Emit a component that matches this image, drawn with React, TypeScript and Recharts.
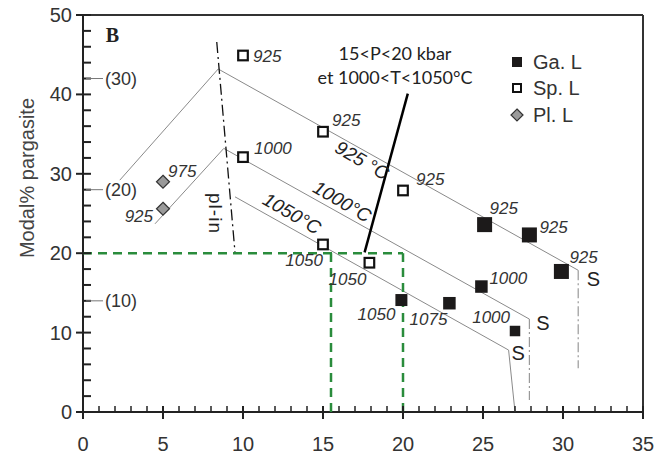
import React from "react";
import { ScatterChart, Scatter, XAxis, YAxis, ReferenceLine, Legend, Label } from "recharts";

// Ga. L (garnet lherzolite)
const GA_X = [25.1, 27.9, 29.9, 24.9, 19.9, 22.9, 27.0];
const GA_Y = [23.6, 22.3, 17.7, 15.8, 14.1, 13.7, 10.2];
const GA_T = ["925", "925", "925", "1000", "1050", "1075", "1000"];

// Sp. L (spinel lherzolite)
const SP_X = [10, 15, 10, 20, 15, 17.9];
const SP_Y = [44.9, 35.3, 32.1, 27.9, 21.1, 18.8];
const SP_T = ["925", "925", "1000", "925", "1050", "1050"];

// Pl. L (plagioclase lherzolite)
const PL_X = [5, 5];
const PL_Y = [29.0, 25.6];
const PL_T = ["975", "925"];

// isotherms and boundaries
const ISO_925 = [{ x: 2.3, y: 29.2 }, { x: 8.45, y: 43.2 }, { x: 30.95, y: 17.85 }];
const ISO_925_S = [{ x: 30.95, y: 17.85 }, { x: 30.95, y: 5.5 }];
const ISO_1000 = [{ x: 4.5, y: 23.7 }, { x: 8.8, y: 33.2 }, { x: 27.9, y: 11.7 }];
const ISO_1000_S = [{ x: 27.9, y: 11.7 }, { x: 27.9, y: 1.5 }];
const ISO_1050 = [{ x: 9.5, y: 27.1 }, { x: 26.6, y: 7.8 }, { x: 27.0, y: 0 }];
const PL_IN = [{ x: 8.36, y: 46.6 }, { x: 9.5, y: 20.1 }];
const POINTER = [{ x: 17.6, y: 20.1 }, { x: 20.3, y: 40.1 }];
const GREEN_H = [{ x: 0, y: 20 }, { x: 20, y: 20 }];
const GREEN_V1 = [{ x: 15.5, y: 0 }, { x: 15.5, y: 20 }];
const GREEN_V2 = [{ x: 20, y: 0 }, { x: 20, y: 20 }];

// text notes placed in data space
const ISO_NOTES = [
  { x: 17.44, y: 31.7, text: "925 °C", angle: 30 },
  { x: 16.2, y: 26.5, text: "1000°C", angle: 30 },
  { x: 13.06, y: 25.0, text: "1050°C", angle: 30 },
  { x: 8.3, y: 25.0, text: "pl-in", angle: 90 },
];
const S_NOTES = [
  { x: 31.9, y: 16.7, text: "S" },
  { x: 28.75, y: 11.2, text: "S" },
  { x: 27.2, y: 7.4, text: "S" },
];
const PT_NOTES = [
  { x: 19.5, y: 45.2, text: "15<P<20 kbar" },
  { x: 19.5, y: 42.2, text: "et  1000<T<1050°C" },
];

const X_TICKS = [0, 1, 2, 3, 4, 5, 6, 7, 8, 9, 10, 11, 12, 13, 14, 15, 16, 17, 18, 19, 20, 21, 22, 23, 24, 25, 26, 27, 28, 29, 30, 31, 32, 33, 34, 35];
const Y_TICKS = [0, 2, 4, 6, 8, 10, 12, 14, 16, 18, 20, 22, 24, 26, 28, 30, 32, 34, 36, 38, 40, 42, 44, 46, 48, 50];
const SECONDARY: Record<number, string> = { 14: "(10)", 28: "(20)", 42: "(30)" };
const SERIES_NAMES = ["Ga. L", "Sp. L", "Pl. L"];

// marker sizes and label placement (dx, dy, anchor)
const GA_SIZE = [15, 15, 15, 12.5, 12, 12.5, 10.5];
const GA_LABEL: [number, number, string][] = [[5, -11, "start"], [10, -2, "start"], [8, -8, "start"], [8, -3, "start"], [-6, 20, "end"], [-2, 22, "end"], [-5, -8, "end"]];
const SP_LABEL: [number, number, string][] = [[10, 7, "start"], [9, -6, "start"], [11, -3, "start"], [13, -5, "start"], [0, 22, "end"], [-3, 22, "end"]];
const PL_LABEL: [number, number, string][] = [[5, -5, "start"], [-10, 13, "end"]];

const FONT = "'Liberation Sans', Arial, sans-serif";

const toPoints = (xs: number[], ys: number[], ts: string[]) =>
  xs.map((x, i) => ({ x, y: ys[i], t: ts[i], i }));

const gaData = toPoints(GA_X, GA_Y, GA_T);
const spData = toPoints(SP_X, SP_Y, SP_T);
const plData = toPoints(PL_X, PL_Y, PL_T);

function PointLabel({ cx, cy, text, pos }: any) {
  return (
    <text x={cx + pos[0]} y={cy + pos[1]} textAnchor={pos[2]} fontFamily={FONT} fontStyle="italic" fontSize={17} fill="#333">
      {text}
    </text>
  );
}

const gaShape = (p: any) => {
  const s = GA_SIZE[p.payload.i];
  return (
    <g>
      <rect x={p.cx - s / 2} y={p.cy - s / 2} width={s} height={s} fill="#1c1a1a" />
      <PointLabel cx={p.cx} cy={p.cy} text={p.payload.t} pos={GA_LABEL[p.payload.i]} />
    </g>
  );
};

const spShape = (p: any) => (
  <g>
    <rect x={p.cx - 4.8} y={p.cy - 4.8} width={9.6} height={9.6} fill="#fff" stroke="#111" strokeWidth={2.2} />
    <PointLabel cx={p.cx} cy={p.cy} text={p.payload.t} pos={SP_LABEL[p.payload.i]} />
  </g>
);

const plShape = (p: any) => (
  <g>
    <path d={`M${p.cx},${p.cy - 6.5}L${p.cx + 6.5},${p.cy}L${p.cx},${p.cy + 6.5}L${p.cx - 6.5},${p.cy}Z`} fill="#9a9a9a" stroke="#333" strokeWidth={1.2} />
    <PointLabel cx={p.cx} cy={p.cy} text={p.payload.t} pos={PL_LABEL[p.payload.i]} />
  </g>
);

const noShape = () => <g />;

const isoNoteShape = (p: any) => (
  <text
    x={p.cx}
    y={p.cy}
    transform={`rotate(${p.payload.angle} ${p.cx} ${p.cy})`}
    textAnchor="middle"
    dominantBaseline="central"
    fontFamily={FONT}
    fontStyle={p.payload.angle === 90 ? "normal" : "italic"}
    fontSize={19}
    fill="#222"
    letterSpacing={p.payload.angle === 90 ? 1 : 0}
  >
    {p.payload.text}
  </text>
);

const sNoteShape = (p: any) => (
  <text x={p.cx} y={p.cy} textAnchor="middle" dominantBaseline="central" fontFamily={FONT} fontSize={20} fill="#222">
    {p.payload.text}
  </text>
);

const ptNoteShape = (p: any) => (
  <text x={p.cx} y={p.cy} textAnchor="middle" dominantBaseline="central" fontFamily="Lato, 'Liberation Sans', sans-serif" fontSize={18} fill="#222">
    {p.payload.text}
  </text>
);

function XTick({ x, y, payload }: any) {
  const v = payload.value;
  const major = v % 5 === 0;
  return (
    <g>
      <line x1={x} x2={x} y1={y - 6} y2={major ? y + 7 : y} stroke="#222" strokeWidth={major ? 2 : 1.5} />
      {major && (
        <text x={x} y={y + 39} textAnchor="middle" fontFamily={FONT} fontSize={20} fill="#333">
          {v}
        </text>
      )}
    </g>
  );
}

function YTick({ x, y, payload }: any) {
  const v = payload.value;
  const major = v % 10 === 0;
  const sec = SECONDARY[v];
  return (
    <g>
      <line x1={major ? x - 7 : x} x2={x + 8} y1={y} y2={y} stroke="#222" strokeWidth={2} />
      {major && (
        <text x={x - 11} y={y + 7} textAnchor="end" fontFamily={FONT} fontSize={20} fill="#333">
          {v}
        </text>
      )}
      {sec && (
        <g>
          <line x1={x + 3} x2={x + 20} y1={y} y2={y} stroke="#777" strokeWidth={1} />
          <text x={x + 22} y={y + 6.5} fontFamily={FONT} fontSize={18} fill="#333">
            {sec}
          </text>
        </g>
      )}
    </g>
  );
}

function LegendBox() {
  const marker = (i: number) => {
    if (i === 0) return <rect x={2} y={2} width={10} height={10} fill="#1c1a1a" />;
    if (i === 1) return <rect x={3} y={3} width={8} height={8} fill="#fff" stroke="#111" strokeWidth={2} />;
    return <path d="M7,1L13,7L7,13L1,7Z" fill="#9a9a9a" stroke="#333" strokeWidth={1.2} />;
  };
  return (
    <div style={{ fontFamily: FONT, fontSize: 20, color: "#333" }}>
      {SERIES_NAMES.map((name, i) => (
        <div key={name} style={{ display: "flex", alignItems: "center", height: 26.5 }}>
          <svg width={23} height={14} style={{ display: "block" }}>
            {marker(i)}
          </svg>
          <span style={{ lineHeight: "20px" }}>{name}</span>
        </div>
      ))}
    </div>
  );
}

export default function App() {
  return (
    <div style={{ position: "absolute", left: 0, top: 0, width: 654, height: 458, background: "#fff" }}>
      <ScatterChart width={654} height={458} margin={{ top: 15, right: 11, bottom: 16, left: 23 }}>
        <XAxis
          type="number"
          dataKey="x"
          domain={[0, 35]}
          ticks={X_TICKS}
          interval={0}
          tickSize={0}
          tickMargin={0}
          tickLine={false}
          tick={(p: any) => <XTick {...p} />}
          axisLine={{ stroke: "#222", strokeWidth: 2 }}
          height={30}
          allowDataOverflow
        />
        <YAxis
          type="number"
          dataKey="y"
          domain={[0, 50]}
          ticks={Y_TICKS}
          interval={0}
          tickSize={0}
          tickMargin={0}
          tickLine={false}
          tick={(p: any) => <YTick {...p} />}
          axisLine={{ stroke: "#222", strokeWidth: 2 }}
          width={60}
          allowDataOverflow
        >
          <Label
            content={() => (
              <text x={27} y={178} transform="rotate(-90 27 178)" textAnchor="middle" dominantBaseline="central" fontFamily={FONT} fontSize={20} fill="#444">
                Modal% pargasite
              </text>
            )}
          />
        </YAxis>
        <ReferenceLine y={50} stroke="#333" strokeWidth={2} ifOverflow="visible" />
        <ReferenceLine x={35} stroke="#333" strokeWidth={2} ifOverflow="visible" />

        <Scatter data={ISO_925} line={{ stroke: "#8a8a8a", strokeWidth: 1 }} shape={noShape} isAnimationActive={false} />
        <Scatter data={ISO_925_S} line={{ stroke: "#999", strokeWidth: 1.2, strokeDasharray: "10 3 2 3" }} shape={noShape} isAnimationActive={false} />
        <Scatter data={ISO_1000} line={{ stroke: "#8a8a8a", strokeWidth: 1 }} shape={noShape} isAnimationActive={false} />
        <Scatter data={ISO_1000_S} line={{ stroke: "#999", strokeWidth: 1.2, strokeDasharray: "10 3 2 3" }} shape={noShape} isAnimationActive={false} />
        <Scatter data={ISO_1050} line={{ stroke: "#8a8a8a", strokeWidth: 1 }} shape={noShape} isAnimationActive={false} />
        <Scatter data={PL_IN} line={{ stroke: "#111", strokeWidth: 1.3, strokeDasharray: "11 4 2 4" }} shape={noShape} isAnimationActive={false} />
        <Scatter data={GREEN_H} line={{ stroke: "#2a8c3c", strokeWidth: 2.5, strokeDasharray: "9 6" }} shape={noShape} isAnimationActive={false} />
        <Scatter data={GREEN_V1} line={{ stroke: "#2a8c3c", strokeWidth: 2.5, strokeDasharray: "9 6" }} shape={noShape} isAnimationActive={false} />
        <Scatter data={GREEN_V2} line={{ stroke: "#2a8c3c", strokeWidth: 2.5, strokeDasharray: "9 6" }} shape={noShape} isAnimationActive={false} />
        <Scatter data={POINTER} line={{ stroke: "#000", strokeWidth: 2.5 }} shape={noShape} isAnimationActive={false} />

        <Scatter data={ISO_NOTES} shape={isoNoteShape} isAnimationActive={false} />
        <Scatter data={S_NOTES} shape={sNoteShape} isAnimationActive={false} />
        <Scatter data={PT_NOTES} shape={ptNoteShape} isAnimationActive={false} />

        <Scatter name="Ga. L" data={gaData} shape={gaShape} isAnimationActive={false} />
        <Scatter name="Sp. L" data={spData} shape={spShape} isAnimationActive={false} />
        <Scatter name="Pl. L" data={plData} shape={plShape} isAnimationActive={false} />

        <Scatter
          data={[{ x: 1.84, y: 47.45 }]}
          shape={(p: any) => (
            <text x={p.cx} y={p.cy} textAnchor="middle" dominantBaseline="central" fontFamily="'Liberation Serif', 'DejaVu Serif', serif" fontWeight="bold" fontSize={20} fill="#222">
              B
            </text>
          )}
          isAnimationActive={false}
        />

        <Legend
          layout="horizontal"
          verticalAlign="middle"
          align="center"
          content={() => <LegendBox />}
          wrapperStyle={{ position: "absolute", left: 510, top: 48.5, width: 120, height: 80 }}
        />
      </ScatterChart>
    </div>
  );
}
